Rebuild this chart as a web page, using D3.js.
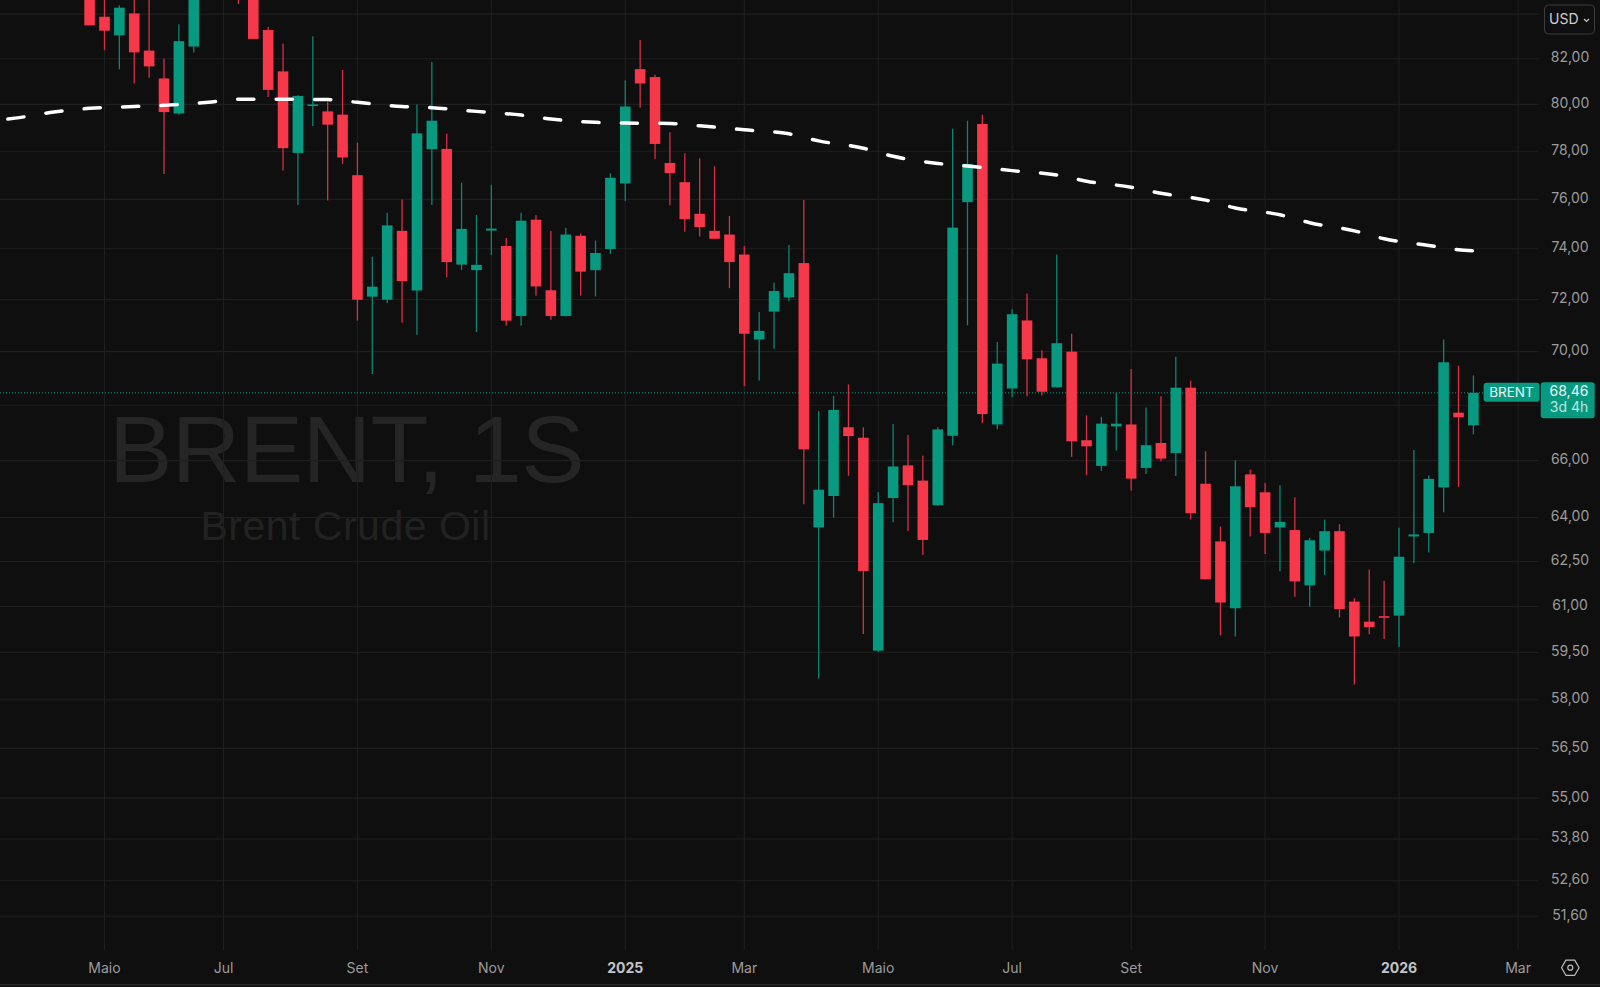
<!DOCTYPE html>
<html><head><meta charset="utf-8">
<script src="https://cdn.jsdelivr.net/npm/d3@7/dist/d3.min.js"></script>
<style>html,body{margin:0;padding:0;background:#0f0f0f;overflow:hidden}svg{display:block}text{font-family:Inter,"Noto Sans",sans-serif}</style>
</head><body><svg id="c" width="1600" height="987"></svg>
<script>
const opens=[85.5,83.88,83.04,84.03,82.36,81.13,79.61,82.54,85.4,86.0,87,85.0,83.28,81.44,77.93,79.97,79.7,79.56,77.0,72.11,71.99,74.72,72.35,78.09,78.1,73.37,73.15,74.73,74.11,71.36,
75.17,72.36,71.36,74.52,73.15,73.99,76.66,81.54,81.19,77.51,76.71,75.41,74.72,74.57,73.77,70.46,71.53,72.08,73.43,63.66,64.75,67.2,66.82,59.56,64.68,65.83,65.29,64.43,66.89,75.89,
79.16,67.3,68.62,71.19,69.75,68.67,70.0,66.73,65.81,67.23,67.3,65.74,66.63,66.27,68.65,65.18,63.18,60.94,65.51,64.88,63.66,63.57,61.7,62.87,63.53,61.16,60.5,60.68,60.7,63.35,
63.47,65.05,67.73,67.27];
const highs=[86,84.8,84.4,85.5,85.0,82.0,83.54,85.6,87.0,87.2,87.5,85.4,83.42,82.67,80.4,83.0,80.1,81.5,78.36,73.68,75.45,76.0,80,81.85,78.74,76.69,75.36,76.6,74.43,75.45,
75.36,74.71,74.84,74.61,74.33,77.08,81.04,82.83,81.29,78.81,77.92,77.71,77.37,75.32,74.11,71.52,72.65,74.15,75.97,67.79,68.34,68.77,67.2,64.88,67.32,66.92,66.17,67.2,78.96,79.3,
79.56,70.37,71.62,72.23,70.05,73.77,70.68,67.63,67.58,68.46,69.35,67.92,68.33,69.81,68.91,66.33,63.69,66.0,65.68,65.21,65.13,64.71,63.3,63.93,63.77,61.27,62.23,61.85,63.65,66.38,
65.47,70.46,69.47,69.11];
const lows=[83.49,82.38,81.53,80.91,81.16,77.05,79.55,82.28,85.2,85.0,84.46,82.88,80.32,77.19,75.77,79.07,75.95,77.47,71.18,69.16,71.86,71.1,70.64,75.77,72.87,73.15,70.74,73.75,70.99,70.99,
72.15,71.22,71.35,72.15,72.12,73.79,75.93,79.86,77.68,75.76,74.68,74.49,74.39,72.44,68.7,68.92,70.11,71.94,64.46,58.67,64.0,65.46,60.1,59.52,63.84,63.54,62.72,64.4,66.55,71.0,
67.35,67.13,68.3,68.33,68.37,68.65,66.14,65.48,65.64,66.36,64.94,65.52,65.98,65.45,63.93,61.9,60.05,60.02,63.35,62.75,62.17,61.32,60.99,62.05,60.64,58.48,60.09,59.94,59.68,62.45,
62.8,64.18,65.07,66.94];
const closes=[83.49,83.25,84.29,82.28,81.66,79.67,82.78,85.2,86.0,85.4,85.5,82.88,80.63,78.13,80.37,80.0,79.13,77.74,71.99,72.5,74.94,72.72,78.76,79.3,73.47,74.8,73.36,74.81,71.18,75.13,
72.51,71.36,74.57,73.09,73.83,76.89,79.91,80.91,78.31,77.09,75.19,74.87,74.4,73.47,70.68,70.79,72.33,73.03,66.4,64.97,67.83,66.88,62.18,64.5,65.79,65.13,63.23,67.12,74.85,77.47,
67.68,69.55,71.43,69.71,68.5,70.32,66.69,66.51,67.33,67.33,65.36,66.55,66.07,68.65,64.15,61.9,61.13,65.09,64.36,63.47,63.85,61.83,63.22,63.53,60.91,60.02,60.32,60.64,62.66,63.42,
65.35,69.6,67.56,68.46];
const maIndex=[-6,-5,-2.4,0,3,5,8,10,13,16,18,21,23,26,29,31,34,36,39,41,44,47,49,52,54,57,59,62,65,67,70,72,75,77,80,82,85,87,90,92,93];
const maValues=[79.34,79.41,79.67,79.83,79.91,79.96,80.09,80.22,80.22,80.21,80.09,79.91,79.86,79.7,79.54,79.37,79.23,79.2,79.18,79.08,78.91,78.74,78.44,78.13,77.79,77.49,77.38,77.19,77.01,76.75,76.5,76.25,75.97,75.65,75.37,75.05,74.72,74.4,74.13,73.96,73.92];
const priceTicks=[84,82,80,78,76,74,72,70,68,66,64,62.5,61,59.5,58,56.5,55,53.8,52.6,51.6];
const hiddenPriceLabels=[84,68];
const timeIndex=[1,9,18,27,36,44,53,62,70,79,88,96];
const timeLabels=["Maio","Jul","Set","Nov","2025","Mar","Maio","Jul","Set","Nov","2026","Mar"];
const boldLabels=["2025","2026"];
const lastPrice=68.46, lastPriceText="68,46", countdown="3d 4h", symbol="BRENT";

const UP="#089981",DOWN="#f7374a",UPW="#0b8672",DOWNW="#d92f42",GRID="#1f1f1f",AX="#9c9c9c";
const svg=d3.select("#c");
const x=d3.scaleLinear().domain([0,93]).range([89.6,1473.4]);
const y=d3.scaleLog().domain([82,51.6]).range([58.7,916.3]);
const fmt=v=>v.toFixed(2).replace(".",",");
const plotR=1539,plotB=950;

svg.append("rect").attr("width",1600).attr("height",987).attr("fill","#0f0f0f");
// watermark
svg.append("text").attr("x",346.5).attr("y",482).attr("text-anchor","middle").attr("fill","#252525")
  .style("font-family","'Liberation Sans'").style("font-size","95px").style("letter-spacing","-0.6px").text("BRENT, 1S");
svg.append("text").attr("x",345.5).attr("y",539.5).attr("text-anchor","middle").attr("fill","#222222")
  .style("font-family","'Liberation Sans'").style("font-size","41px").style("letter-spacing","0.5px").text("Brent Crude Oil");
// grid
const gy=svg.append("g"),gx=svg.append("g");
gy.selectAll("line").data(priceTicks).join("line").attr("x1",0).attr("x2",plotR)
  .attr("y1",d=>y(d)).attr("y2",d=>y(d)).attr("stroke",GRID).attr("stroke-width",1.1);
gx.selectAll("line").data(timeIndex).join("line").attr("x1",d=>x(d)).attr("x2",d=>x(d))
  .attr("y1",0).attr("y2",plotB).attr("stroke",GRID).attr("stroke-width",1.1);
// last price dotted
svg.append("line").attr("x1",0).attr("x2",1484).attr("y1",y(lastPrice)).attr("y2",y(lastPrice))
  .attr("stroke",UP).attr("stroke-width",1).attr("stroke-dasharray","1 2");
// candles
const idx=d3.range(opens.length);
const bw=10.6;
const cg=svg.append("g");
cg.selectAll("line").data(idx).join("line").attr("x1",i=>x(i)).attr("x2",i=>x(i))
  .attr("y1",i=>y(highs[i])).attr("y2",i=>y(lows[i])).attr("stroke-width",1.3)
  .attr("stroke",i=>closes[i]>=opens[i]?UPW:DOWNW);
cg.selectAll("rect").data(idx).join("rect").attr("x",i=>x(i)-bw/2).attr("width",bw)
  .attr("y",i=>y(Math.max(opens[i],closes[i])))
  .attr("height",i=>Math.max(1.6,Math.abs(y(opens[i])-y(closes[i]))))
  .attr("fill",i=>closes[i]>=opens[i]?UP:DOWN);
// moving average
const line=d3.line().x((d,i)=>x(maIndex[i])).y(d=>y(d)).curve(d3.curveMonotoneX);
svg.append("path").attr("d",line(maValues)).attr("fill","none").attr("stroke","#ffffff").attr("stroke-width",3.5)
  .attr("stroke-linecap","round").attr("stroke-dasharray","16.2 22.27").attr("stroke-dashoffset",-7.6);
// y labels
svg.append("g").selectAll("text").data(priceTicks.filter(d=>!hiddenPriceLabels.includes(d))).join("text")
  .attr("x",1570).attr("y",d=>y(d)-1.5).attr("dy","0.35em").attr("text-anchor","middle").attr("fill",AX)
  .style("font-size","14px").text(fmt);
// x labels
svg.append("g").selectAll("text").data(timeIndex).join("text")
  .attr("x",d=>x(d)).attr("y",968).attr("dy","0.35em").attr("text-anchor","middle")
  .attr("fill",(d,i)=>boldLabels.includes(timeLabels[i])?"#c4c4c4":AX)
  .style("font-weight",(d,i)=>boldLabels.includes(timeLabels[i])?700:400)
  .style("font-size","14px").text((d,i)=>timeLabels[i]);
// price tags
svg.append("rect").attr("x",1483.6).attr("y",382.7).attr("width",56).attr("height",19).attr("rx",3).attr("fill",UP);
svg.append("text").attr("x",1511.5).attr("y",392.5).attr("dy","0.35em").attr("text-anchor","middle").attr("fill","#e6f5f2")
  .style("font-size","13.5px").text(symbol);
svg.append("rect").attr("x",1540.7).attr("y",382.3).attr("width",54).attr("height",36).attr("rx",3).attr("fill",UP);
svg.append("text").attr("x",1569).attr("y",391).attr("dy","0.35em").attr("text-anchor","middle").attr("fill","#ecf8f5")
  .style("font-size","14px").text(lastPriceText);
svg.append("text").attr("x",1569).attr("y",407.5).attr("dy","0.35em").attr("text-anchor","middle").attr("fill","#bfe6de")
  .style("font-size","14px").text(countdown);
// currency button
svg.append("rect").attr("x",1544.5).attr("y",5).attr("width",50).attr("height",29).attr("rx",4)
  .attr("fill","#0f0f0f").attr("stroke","#3d3d3d").attr("stroke-width",1);
svg.append("text").attr("x",1549).attr("y",19.5).attr("dy","0.35em").attr("fill","#cfcfcf").style("font-size","14px").text("USD");
svg.append("path").attr("d","M1584 19l2.5 2.5 2.5-2.5").attr("fill","none").attr("stroke","#cfcfcf").attr("stroke-width",1.1);
// settings icon
const hexR=8.8,cx=1570.3,cy=967.7;
const hex=d3.range(6).map(k=>[cx+hexR*Math.cos(k*Math.PI/3),cy+hexR*Math.sin(k*Math.PI/3)]);
svg.append("path").attr("d","M"+hex.join("L")+"Z").attr("fill","none").attr("stroke","#bdbdbd").attr("stroke-width",1.2).attr("stroke-linejoin","round");
svg.append("circle").attr("cx",cx).attr("cy",cy).attr("r",2.5).attr("fill","none").attr("stroke","#bdbdbd").attr("stroke-width",1.2);
// bottom border
svg.append("line").attr("x1",0).attr("x2",1600).attr("y1",984.5).attr("y2",984.5).attr("stroke","#2a2a2a").attr("stroke-width",1);
svg.append("rect").attr("x",0).attr("y",985).attr("width",1600).attr("height",2).attr("fill","#141414");
</script></body></html>
